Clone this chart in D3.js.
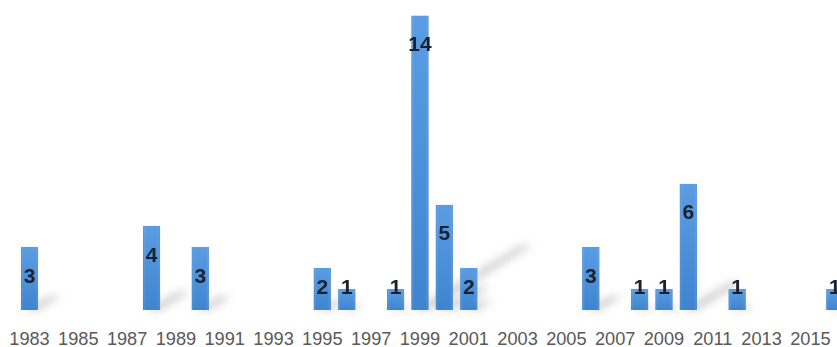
<!DOCTYPE html>
<html><head><meta charset="utf-8">
<script src="https://cdn.jsdelivr.net/npm/d3@7"></script>
<style>html,body{margin:0;padding:0;background:#fff;overflow:hidden}</style>
</head><body>
<svg id="chart" width="837" height="347"></svg>
<script>
const years = d3.range(1983, 2017).map(String);
const valueYears = ["1983","1988","1990","1995","1996","1998","1999","2000","2001","2006","2008","2009","2010","2012","2016"];
const values = [3,4,3,2,1,1,14,5,2,3,1,1,6,1,1];
const tickLabels = d3.range(1983, 2017, 2).map(String);

const svg = d3.select("#chart");
const base = 310;
const x = d3.scaleBand().domain(years).range([17.3, 847]).paddingInner(0.3).paddingOuter(0.15);
const y = d3.scaleLinear().domain([0, 14]).range([base, 15.7]);
const data = valueYears.map((yr, i) => ({year: yr, value: values[i]}));

const defs = svg.append("defs");
const g = defs.append("linearGradient").attr("id","barGrad").attr("x1",0).attr("y1",0).attr("x2",0).attr("y2",1);
g.append("stop").attr("offset","0%").attr("stop-color","#5a9de2");
g.append("stop").attr("offset","100%").attr("stop-color","#3f84d0");
const gh = defs.append("linearGradient").attr("id","edgeGrad").attr("x1",0).attr("y1",0).attr("x2",1).attr("y2",0);
gh.append("stop").attr("offset","0%").attr("stop-color","#2f6fb8").attr("stop-opacity",0.35);
gh.append("stop").attr("offset","15%").attr("stop-color","#ffffff").attr("stop-opacity",0);
gh.append("stop").attr("offset","85%").attr("stop-color","#ffffff").attr("stop-opacity",0);
gh.append("stop").attr("offset","100%").attr("stop-color","#2f6fb8").attr("stop-opacity",0.35);
const blur = defs.append("filter").attr("id","blur").attr("x","-50%").attr("y","-50%").attr("width","200%").attr("height","200%");
blur.append("feGaussianBlur").attr("stdDeviation",4.5);

// cast shadows
svg.append("g").attr("filter","url(#blur)").selectAll("path").data(data).join("path")
  .attr("d", d => {
    const x0 = x(d.year) + 2, x1 = x(d.year) + x.bandwidth();
    const h = base - y(d.value);
    const dx = h * 0.35, dy = -h * 0.22;
    return `M${x0},${base} L${x1},${base} L${x1+dx},${base+dy} L${x0+dx+5},${base+dy} Z`;
  })
  .attr("fill","#808080").attr("opacity",0.42);

// bars
const bars = svg.append("g");
bars.selectAll("rect.b").data(data).join("rect").attr("class","b")
  .attr("x", d => x(d.year)).attr("width", x.bandwidth())
  .attr("y", d => y(d.value)).attr("height", d => base - y(d.value))
  .attr("fill","url(#barGrad)");
bars.selectAll("rect.e").data(data).join("rect").attr("class","e")
  .attr("x", d => x(d.year)).attr("width", x.bandwidth())
  .attr("y", d => y(d.value)).attr("height", d => base - y(d.value))
  .attr("fill","url(#edgeGrad)");

// value labels
svg.append("g").selectAll("text").data(data).join("text")
  .attr("x", d => x(d.year) + x.bandwidth()/2)
  .attr("y", d => Math.min(y(d.value) + 28, 286) + 7.6)
  .attr("text-anchor","middle")
  .attr("font-family","'Liberation Sans', Arial, sans-serif")
  .attr("font-weight","bold").attr("font-size","21px")
  .attr("fill","#1b2030")
  .text(d => d.value);

// x axis
const axis = d3.axisBottom(x).tickValues(tickLabels).tickSize(0).tickPadding(0);
const ax = svg.append("g").attr("transform","translate(0,330)").call(axis);
ax.select(".domain").remove();
ax.selectAll("text")
  .attr("font-family","'Liberation Sans', Arial, sans-serif")
  .attr("font-size","18.2px").attr("fill","#595959")
  .attr("dy","0").attr("y", 14.5);
</script>
</body></html>
